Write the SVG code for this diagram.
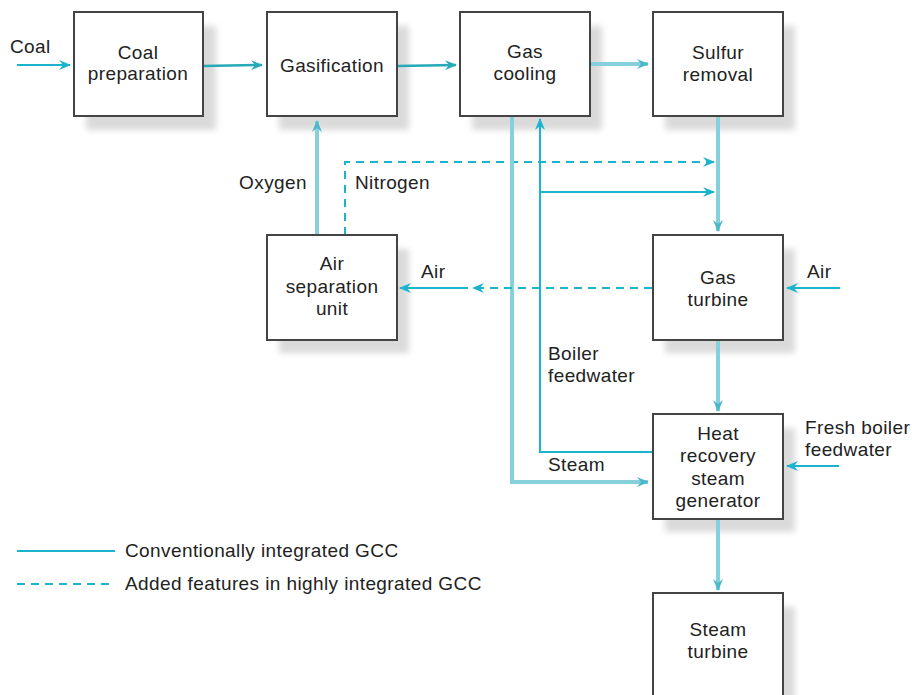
<svg xmlns="http://www.w3.org/2000/svg" width="912" height="695" viewBox="0 0 912 695">
  <defs>
    <filter id="soft" x="-20%" y="-20%" width="140%" height="140%">
      <feGaussianBlur stdDeviation="3"/>
    </filter>
    <marker id="arr" viewBox="0 0 12 10" refX="11" refY="5" markerWidth="12" markerHeight="10" markerUnits="userSpaceOnUse" orient="auto">
      <path d="M0,0 L12,5 L0,10 L4,5 z" fill="#1ab4cc"/>
    </marker>
    <marker id="arrL" viewBox="0 0 12 10" refX="11" refY="5" markerWidth="12" markerHeight="10" markerUnits="userSpaceOnUse" orient="auto">
      <path d="M0,0 L12,5 L0,10 L4,5 z" fill="#4cb8c8"/>
    </marker>
    <marker id="arrT" viewBox="0 0 12 10" refX="11" refY="5" markerWidth="12" markerHeight="10" markerUnits="userSpaceOnUse" orient="auto">
      <path d="M0,0 L12,5 L0,10 L4,5 z" fill="#26a9b8"/>
    </marker>
  </defs>
  <style>
    .box { fill: #ffffff; stroke: #444444; stroke-width: 2; }
    .shadow { fill: #dadada; filter: url(#soft); }
    .t { font-family: "Liberation Sans", Arial, sans-serif; font-size: 19px; letter-spacing: 0.4px; fill: #222222; }
    .c { text-anchor: middle; }
    .thin { fill: none; stroke: #1ab4cc; stroke-width: 2; }
    .teal { fill: none; stroke: #26a9b8; stroke-width: 2.5; }
    .thick { fill: none; stroke: #86d0dc; stroke-width: 4; }
    .dash { fill: none; stroke: #1ab4cc; stroke-width: 2; stroke-dasharray: 8 6; }
  </style>

  <rect width="912" height="695" fill="#ffffff"/>

  <!-- box shadows -->
  <g id="shadows">
    <rect class="shadow" x="86" y="26" width="130" height="104"/>
    <rect class="shadow" x="279" y="26" width="130" height="104"/>
    <rect class="shadow" x="472" y="26" width="130" height="104"/>
    <rect class="shadow" x="665" y="26" width="130" height="104"/>
    <rect class="shadow" x="279" y="249" width="130" height="104"/>
    <rect class="shadow" x="665" y="249" width="130" height="104"/>
    <rect class="shadow" x="665" y="428" width="130" height="104"/>
    <rect class="shadow" x="665" y="607" width="130" height="104"/>
  </g>

  <!-- connectors -->
  <g id="connectors">
    <line class="thin" x1="17" y1="65" x2="70" y2="65" marker-end="url(#arr)"/>
    <line class="teal" x1="203" y1="66" x2="262" y2="65" marker-end="url(#arrT)"/>
    <line class="teal" x1="397" y1="66" x2="456" y2="65" marker-end="url(#arrT)"/>
    <line class="thick" x1="591" y1="64" x2="648" y2="64" marker-end="url(#arrL)"/>
    <!-- oxygen -->
    <line class="thick" x1="317" y1="235" x2="317" y2="121" marker-end="url(#arrL)"/>
    <!-- nitrogen (dashed) -->
    <polyline class="dash" points="345,235 345,162 714,162" marker-end="url(#arr)"/>
    <!-- sulfur removal to gas turbine -->
    <line class="thick" x1="718" y1="117" x2="718" y2="231" marker-end="url(#arrL)"/>
    <!-- boiler feedwater to gas cooling -->
    <polyline class="thin" points="653,452 540,452 540,119" marker-end="url(#arr)"/>
    <line class="thin" x1="540" y1="192" x2="714" y2="192" marker-end="url(#arr)"/>
    <!-- steam -->
    <polyline class="thick" points="512,117 512,482 648,482" marker-end="url(#arrL)"/>
    <!-- air from gas turbine to ASU -->
    <line class="dash" x1="652" y1="288" x2="473" y2="288" marker-end="url(#arr)"/>
    <line class="thin" x1="468" y1="288" x2="400" y2="288" marker-end="url(#arr)"/>
    <!-- air into gas turbine -->
    <line class="thin" x1="840" y1="288" x2="787" y2="288" marker-end="url(#arr)"/>
    <!-- gas turbine to HRSG -->
    <line class="thick" x1="718" y1="341" x2="718" y2="411" marker-end="url(#arrL)"/>
    <!-- fresh boiler feedwater -->
    <line class="thin" x1="839" y1="466" x2="787" y2="466" marker-end="url(#arr)"/>
    <!-- HRSG to steam turbine -->
    <line class="thick" x1="718" y1="520" x2="718" y2="590" marker-end="url(#arrL)"/>
  </g>

  <!-- nodes -->
  <g id="coal-preparation">
    <rect class="box" x="74" y="12" width="129" height="104"/>
    <text class="t c" x="138" y="59">Coal</text>
    <text class="t c" x="138" y="80">preparation</text>
  </g>
  <g id="gasification">
    <rect class="box" x="267" y="12" width="130" height="104"/>
    <text class="t c" x="332" y="72">Gasification</text>
  </g>
  <g id="gas-cooling">
    <rect class="box" x="460" y="12" width="130" height="104"/>
    <text class="t c" x="525" y="58">Gas</text>
    <text class="t c" x="525" y="80">cooling</text>
  </g>
  <g id="sulfur-removal">
    <rect class="box" x="653" y="12" width="130" height="104"/>
    <text class="t c" x="718" y="59">Sulfur</text>
    <text class="t c" x="718" y="81">removal</text>
  </g>
  <g id="air-separation-unit">
    <rect class="box" x="267" y="235" width="130" height="105"/>
    <text class="t c" x="332" y="270">Air</text>
    <text class="t c" x="332" y="293">separation</text>
    <text class="t c" x="332" y="315">unit</text>
  </g>
  <g id="gas-turbine">
    <rect class="box" x="653" y="235" width="130" height="105"/>
    <text class="t c" x="718" y="284">Gas</text>
    <text class="t c" x="718" y="306">turbine</text>
  </g>
  <g id="hrsg">
    <rect class="box" x="653" y="414" width="130" height="105"/>
    <text class="t c" x="718" y="440">Heat</text>
    <text class="t c" x="718" y="462">recovery</text>
    <text class="t c" x="718" y="485">steam</text>
    <text class="t c" x="718" y="507">generator</text>
  </g>
  <g id="steam-turbine">
    <rect class="box" x="653" y="593" width="130" height="110"/>
    <text class="t c" x="718" y="636">Steam</text>
    <text class="t c" x="718" y="658">turbine</text>
  </g>

  <!-- stream labels -->
  <g id="labels">
    <text class="t" x="10" y="53">Coal</text>
    <text class="t" x="307" y="189" text-anchor="end">Oxygen</text>
    <text class="t" x="355" y="189">Nitrogen</text>
    <text class="t" x="421" y="278">Air</text>
    <text class="t" x="807" y="278">Air</text>
    <text class="t" x="548" y="360">Boiler</text>
    <text class="t" x="548" y="382">feedwater</text>
    <text class="t" x="548" y="471">Steam</text>
    <text class="t" x="805" y="434">Fresh boiler</text>
    <text class="t" x="805" y="456">feedwater</text>
  </g>

  <!-- legend -->
  <g id="legend">
    <line class="thin" x1="17" y1="551" x2="115" y2="551"/>
    <text class="t" x="125" y="557">Conventionally integrated GCC</text>
    <line class="dash" x1="17" y1="584" x2="115" y2="584"/>
    <text class="t" x="125" y="590">Added features in highly integrated GCC</text>
  </g>
</svg>
